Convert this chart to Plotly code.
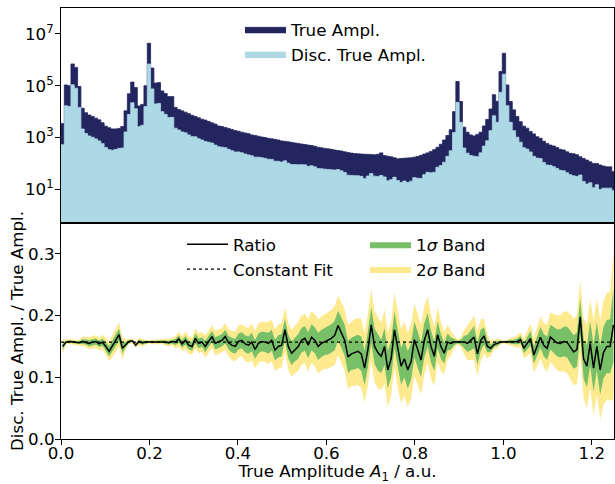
import numpy as np
import plotly.graph_objects as go

# ---------------- data ----------------
bin_width = 0.0075
n_bins = 167

true_counts = [
    3500, 107000, 100000, 690000, 510000, 93000, 13500, 9100, 7400, 6500,
    5600, 4800, 3700, 2750, 2400, 2150, 2150, 2250, 2650, 10700,
    49000, 138000, 85000, 16600, 19000, 100000, 4370000, 480000, 126000, 132000,
    63000, 50000, 38000, 38000, 14500, 12000, 10700, 9500, 8300, 7200,
    6500, 5750, 5100, 4700, 4150, 3700, 3300, 2800, 2650, 2450,
    2250, 2050, 1850, 1750, 1600, 1500, 1400, 1260, 1200, 1120,
    1050, 1000, 930, 890, 850, 800, 740, 710, 680, 650,
    620, 590, 560, 540, 510, 490, 460, 420, 400, 380,
    365, 350, 330, 315, 300, 280, 265, 250, 240, 235,
    230, 225, 225, 220, 215, 225, 255, 200, 190, 180,
    165, 150, 155, 160, 162, 165, 175, 185, 205, 230,
    255, 290, 340, 420, 550, 800, 1200, 2000, 10000, 145000,
    24500, 2500, 1600, 1260, 1150, 1320, 1600, 2800, 5000, 12600,
    45000, 25000, 355000, 1780000, 107000, 24500, 11700, 6500, 4100, 2750,
    2300, 1700, 1380, 1070, 930, 720, 590, 510, 470, 410,
    350, 330, 280, 245, 235, 215, 180, 155, 135, 115,
    100, 100, 87, 79, 74, 74, 48,
]

ratio = [
    0.150, 0.157, 0.158, 0.157, 0.157, 0.156, 0.158, 0.157, 0.155, 0.157,
    0.158, 0.154, 0.157, 0.150, 0.142, 0.151, 0.160, 0.169, 0.147, 0.153,
    0.158, 0.159, 0.152, 0.158, 0.156, 0.157, 0.157, 0.157, 0.157, 0.157,
    0.158, 0.157, 0.156, 0.158, 0.157, 0.162, 0.154, 0.160, 0.152, 0.150,
    0.163, 0.155, 0.157, 0.150, 0.158, 0.166, 0.155, 0.158, 0.160, 0.166,
    0.156, 0.152, 0.150, 0.158, 0.160, 0.154, 0.152, 0.157, 0.145, 0.155,
    0.158, 0.157, 0.155, 0.160, 0.144, 0.150, 0.152, 0.177, 0.150, 0.139,
    0.145, 0.150, 0.160, 0.163, 0.152, 0.165, 0.160, 0.150, 0.155, 0.158,
    0.160, 0.163, 0.168, 0.184, 0.172, 0.160, 0.133, 0.138, 0.140, 0.142,
    0.138, 0.115, 0.145, 0.185, 0.150, 0.140, 0.134, 0.150, 0.112, 0.130,
    0.177, 0.145, 0.118, 0.130, 0.112, 0.125, 0.161, 0.145, 0.128, 0.160,
    0.177, 0.150, 0.134, 0.169, 0.150, 0.139, 0.157, 0.155, 0.157, 0.157,
    0.157, 0.157, 0.155, 0.160, 0.165, 0.138, 0.160, 0.167, 0.150, 0.147,
    0.153, 0.155, 0.157, 0.157, 0.157, 0.158, 0.157, 0.158, 0.161, 0.147,
    0.155, 0.163, 0.136, 0.150, 0.165, 0.152, 0.147, 0.165, 0.160, 0.156,
    0.155, 0.158, 0.157, 0.150, 0.141, 0.145, 0.198, 0.130, 0.118, 0.155,
    0.115, 0.150, 0.112, 0.140, 0.150, 0.150, 0.185,
]

sigma = [
    0.006, 0.002, 0.002, 0.002, 0.002, 0.002, 0.004, 0.004, 0.005, 0.005,
    0.005, 0.005, 0.006, 0.007, 0.008, 0.009, 0.010, 0.010, 0.009, 0.004,
    0.002, 0.002, 0.002, 0.003, 0.003, 0.002, 0.001, 0.002, 0.002, 0.002,
    0.002, 0.003, 0.003, 0.003, 0.005, 0.006, 0.006, 0.007, 0.007, 0.007,
    0.008, 0.008, 0.008, 0.009, 0.009, 0.009, 0.010, 0.010, 0.010, 0.011,
    0.011, 0.012, 0.012, 0.013, 0.013, 0.014, 0.014, 0.015, 0.015, 0.016,
    0.016, 0.016, 0.017, 0.017, 0.017, 0.018, 0.018, 0.018, 0.019, 0.019,
    0.019, 0.020, 0.020, 0.020, 0.021, 0.021, 0.021, 0.022, 0.022, 0.022,
    0.023, 0.023, 0.024, 0.024, 0.025, 0.025, 0.026, 0.026, 0.027, 0.027,
    0.028, 0.028, 0.029, 0.029, 0.029, 0.029, 0.027, 0.030, 0.030, 0.030,
    0.030, 0.031, 0.030, 0.030, 0.030, 0.030, 0.029, 0.029, 0.028, 0.028,
    0.027, 0.026, 0.024, 0.022, 0.020, 0.017, 0.014, 0.010, 0.005, 0.002,
    0.004, 0.010, 0.014, 0.016, 0.018, 0.018, 0.017, 0.014, 0.010, 0.006,
    0.004, 0.004, 0.002, 0.001, 0.002, 0.003, 0.004, 0.005, 0.006, 0.008,
    0.010, 0.012, 0.014, 0.016, 0.017, 0.018, 0.019, 0.020, 0.021, 0.022,
    0.023, 0.024, 0.025, 0.026, 0.027, 0.028, 0.030, 0.032, 0.034, 0.036,
    0.038, 0.039, 0.040, 0.042, 0.043, 0.044, 0.060,
]

constant_fit = 0.157

x_ticks = [0.0, 0.2, 0.4, 0.6, 0.8, 1.0, 1.2]
x_ticktext = ["0.0", "0.2", "0.4", "0.6", "0.8", "1.0", "1.2"]
y_top_ticks = [1e1, 1e3, 1e5, 1e7]
y_top_ticktext = ["10<sup>1</sup>", "10<sup>3</sup>", "10<sup>5</sup>", "10<sup>7</sup>"]
y_bot_ticks = [0.0, 0.1, 0.2, 0.3]
y_bot_ticktext = ["0.0", "0.1", "0.2", "0.3"]

# ---------------- derived ----------------
edges = np.arange(n_bins + 1) * bin_width
centers = edges[:-1] + bin_width / 2
true_arr = np.array(true_counts, dtype=float)
ratio_arr = np.array(ratio)
sig_arr = np.array(sigma)
disc_arr = true_arr * ratio_arr

# step outlines (value repeated for final edge)
true_step = np.append(true_arr, true_arr[-1])
disc_step = np.append(disc_arr, disc_arr[-1])

NAVY = "#23265e"
LIGHT = "#add8e6"
GREEN = "#78c067"
YELLOW = "#fde98e"
FONT = "DejaVu Sans"
FS = 16.7

fig = go.Figure()

fig.add_trace(go.Scatter(x=edges, y=true_step, mode="lines", line=dict(shape="hv", width=0.8, color=NAVY),
                         fill="tozeroy", fillcolor=NAVY,
                         name="True Ampl.", xaxis="x", yaxis="y", legend="legend"))
fig.add_trace(go.Scatter(x=edges, y=disc_step, mode="lines", line=dict(shape="hv", width=0.8, color=LIGHT),
                         fill="tozeroy", fillcolor=LIGHT,
                         name="Disc. True Ampl.", xaxis="x", yaxis="y", legend="legend"))

# 2 sigma band
fig.add_trace(go.Scatter(x=centers, y=ratio_arr - 2 * sig_arr, mode="lines", line=dict(width=0, color=YELLOW),
                         showlegend=False, hoverinfo="skip", xaxis="x2", yaxis="y2"))
fig.add_trace(go.Scatter(x=centers, y=ratio_arr + 2 * sig_arr, mode="lines", line=dict(width=0, color=YELLOW),
                         fill="tonexty", fillcolor=YELLOW, name="2<i>σ</i> Band", legend="legend3",
                         xaxis="x2", yaxis="y2"))
# 1 sigma band
fig.add_trace(go.Scatter(x=centers, y=ratio_arr - sig_arr, mode="lines", line=dict(width=0, color=GREEN),
                         showlegend=False, hoverinfo="skip", xaxis="x2", yaxis="y2"))
fig.add_trace(go.Scatter(x=centers, y=ratio_arr + sig_arr, mode="lines", line=dict(width=0, color=GREEN),
                         fill="tonexty", fillcolor=GREEN, name="1<i>σ</i> Band", legend="legend3",
                         legendrank=1, xaxis="x2", yaxis="y2"))
# ratio line
fig.add_trace(go.Scatter(x=centers, y=ratio_arr, mode="lines", line=dict(width=1.5, color="black"),
                         name="Ratio", legend="legend2", xaxis="x2", yaxis="y2"))
# constant fit
fig.add_trace(go.Scatter(x=[edges[0], edges[-1]], y=[constant_fit, constant_fit], mode="lines",
                         line=dict(width=1.3, color="black", dash="dot"),
                         name="Constant Fit", legend="legend2", xaxis="x2", yaxis="y2"))

W, H = 615, 484
ML, MR, MT, MB = 61, 1, 8, 45
plot_h = H - MT - MB
plot_w = W - ML - MR
split = 1 - 215 / plot_h

axis_common = dict(showline=True, linecolor="black", linewidth=1.1, mirror=True, showgrid=False,
                   zeroline=False, ticks="outside", ticklen=5, tickwidth=1.1, tickcolor="black",
                   automargin=False, layer="above traces",
                   tickfont=dict(family=FONT, size=FS, color="black"))

legend_common = dict(bgcolor="rgba(0,0,0,0)", borderwidth=0, font=dict(family=FONT, size=FS, color="black"),
                     xanchor="left", yanchor="top", tracegroupgap=0, itemwidth=41, traceorder="normal")

fig.update_layout(
    width=W, height=H,
    margin=dict(l=ML, r=MR, t=MT, b=MB),
    paper_bgcolor="white", plot_bgcolor="white",
    font=dict(family=FONT, size=FS, color="black"),
    xaxis=dict(axis_common, domain=[0, 1], range=[0, 1.25], anchor="y", showticklabels=False, ticks=""),
    yaxis=dict(axis_common, domain=[split, 1], type="log", range=[-0.3, 8.0], anchor="x",
               tickvals=y_top_ticks, ticktext=y_top_ticktext, ticklabelstandoff=-2),
    xaxis2=dict(axis_common, domain=[0, 1], range=[0, 1.25], anchor="y2",
                tickvals=x_ticks, ticktext=x_ticktext, ticklabelstandoff=-6,
                title=dict(text="True Amplitude <i>A</i><sub>1</sub> / a.u.", font=dict(family=FONT, size=FS), standoff=5)),
    yaxis2=dict(axis_common, domain=[0, split], range=[0, 0.35], anchor="x2",
                tickvals=y_bot_ticks, ticktext=y_bot_ticktext, ticklabelstandoff=-3,
                title=dict(text="Disc. True Ampl. / True Ampl.", font=dict(family=FONT, size=FS), standoff=0)),
    legend=dict(legend_common, x=(240 - ML) / plot_w, y=1 - 4 / plot_h),
    legend2=dict(legend_common, x=(182 - ML) / plot_w, y=split - 4 / plot_h),
    legend3=dict(legend_common, x=(365 - ML) / plot_w, y=split - 4 / plot_h),
    showlegend=True,
)

# remove the browser's default page margin so the figure sits at the window's top-left corner
fig.write_html("out.html", config={"displayModeBar": False},
               post_script="document.body.style.margin='0';document.body.style.overflow='hidden';")
